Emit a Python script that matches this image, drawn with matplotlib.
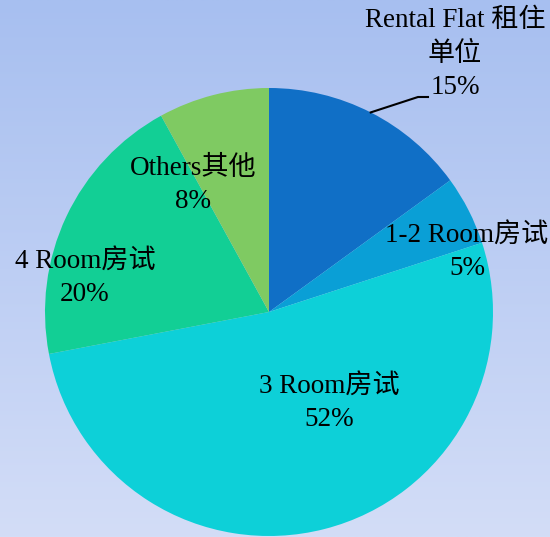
import matplotlib
matplotlib.use("Agg")
import matplotlib.pyplot as plt
import matplotlib.colors as mcolors
import numpy as np

# datos del grafico
categorias = ["Rental Flat 租住\n单位", "1-2 Room房试", "3 Room房试", "4 Room房试", "Others其他"]
porcentajes = [15, 5, 52, 20, 8]
colores = ["#106fc6", "#0a9fd6", "#0dd0d8", "#12cf95", "#7fca62"]

# posiciones de las etiquetas (pixeles, origen arriba-izquierda)
pos_etiquetas = [(455, 54), (467, 252), (329, 403), (85, 278), (193, 185)]

W, H = 550, 537
fig = plt.figure(figsize=(W / 100, H / 100), dpi=100)
ax = fig.add_axes([0, 0, 1, 1])

# fondo degradado
fondo = mcolors.LinearSegmentedColormap.from_list("fondo", ["#d3ddf7", "#a7bff0"])
grad = np.linspace(0, 1, 256).reshape(-1, 1)
ax.imshow(grad, cmap=fondo, extent=[0, W, 0, H], origin="lower", aspect="auto", zorder=0)

cx, cy, r = 269, H - 312, 224
wedges, _ = ax.pie(porcentajes, colors=colores, startangle=90, counterclock=False,
                   center=(cx, cy), radius=r, frame=True,
                   wedgeprops=dict(linewidth=0))
for w in wedges:
    w.set_zorder(1)
ax.set_xlim(0, W)
ax.set_ylim(0, H)
ax.set_aspect("equal")
ax.axis("off")

fuente = ["Liberation Serif", "Noto Sans CJK SC"]
for cat, p, (x, y) in zip(categorias, porcentajes, pos_etiquetas):
    ax.text(x, H - y, f"{cat}\n{p}%", ha="center", va="center", fontsize=19.5,
            family=fuente, color="black", linespacing=1.45, zorder=3)

# linea guia para Rental Flat
w0 = wedges[0]
ang = np.deg2rad((w0.theta1 + w0.theta2) / 2)
x0, y0 = cx + r * np.cos(ang), cy + r * np.sin(ang)
ax.plot([x0, 418, 428], [y0, H - 97, H - 97], color="black", lw=1.5, zorder=3)

plt.savefig("out.png", dpi=100)
plt.close()
